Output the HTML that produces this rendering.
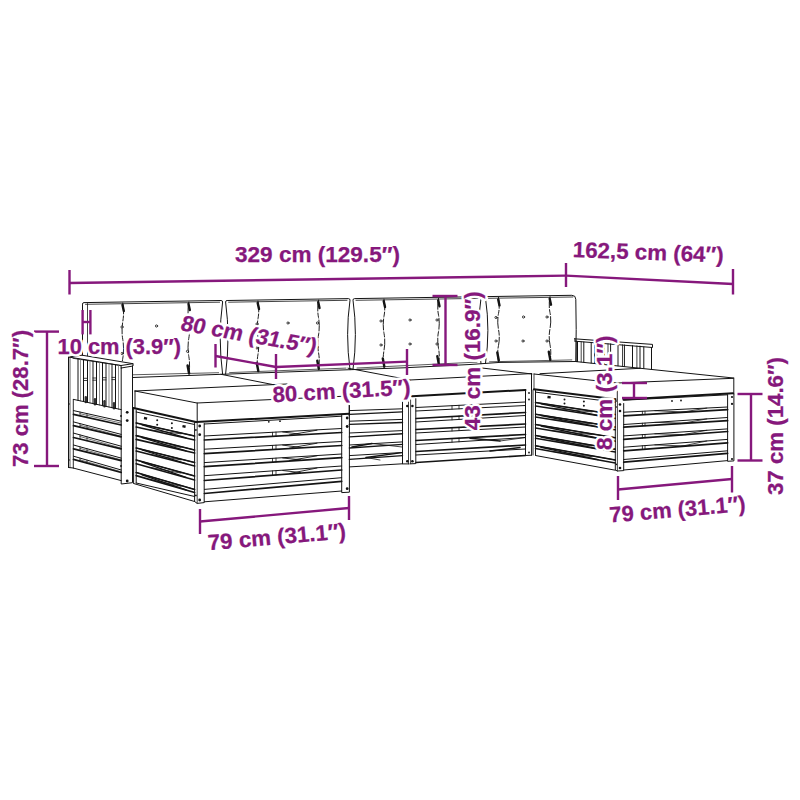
<!DOCTYPE html>
<html><head><meta charset="utf-8"><title>Sofa dimensions</title>
<style>
html,body{margin:0;padding:0;background:#fff;}
svg{display:block}
text{font-family:"Liberation Sans",sans-serif;font-weight:bold;fill:#86187c;stroke:#86187c;stroke-width:0.25px;stroke-linejoin:round}
text.h{fill:#fff;stroke:#fff;stroke-width:5px}
</style></head><body>
<svg width="800" height="800" viewBox="0 0 800 800">
<rect width="800" height="800" fill="#fff"/>
<g id="furniture" stroke-linecap="round">
<path d="M82.5,377.5 Q82.5,340.0 82.5,304.1 Q82.5,302.6 84.0,302.6 L221.1,300.5 Q222.6,300.5 222.6,302.0 Q217.79999999999998,337.4 222.6,374.3" fill="none" stroke="#141414" stroke-width="1.0" stroke-linejoin="round" stroke-linecap="round" />
<path d="M85.5,304.3 L219.6,302.2" fill="none" stroke="#141414" stroke-width="0.8" stroke-linejoin="round" stroke-linecap="round" />
<path d="M86.5,375.9 L218.6,372.7" fill="none" stroke="#141414" stroke-width="0.7" stroke-linejoin="round" stroke-linecap="round" />
<line x1="87.5" y1="303.6" x2="87.5" y2="363.5" stroke="#141414" stroke-width="0.8" />
<path d="M122.8,303.0 Q124.4,312.2 122.8,321.4 Q121.2,330.6 122.8,339.7 Q124.4,348.9 122.8,358.1 Q121.2,367.3 122.8,376.5 " fill="none" stroke="#141414" stroke-width="0.95" stroke-dasharray="11 2 5 2"/>
<path d="M122.5,305.0 L123.8,311.0" fill="none" stroke="#141414" stroke-width="2.4" stroke-linejoin="round" stroke-linecap="round" />
<path d="M121.6,367.5 L123.1,375.5" fill="none" stroke="#141414" stroke-width="2.4" stroke-linejoin="round" stroke-linecap="round" />
<path d="M188.8,302.0 Q187.2,311.1 188.8,320.1 Q190.4,329.2 188.8,338.3 Q187.2,347.3 188.8,356.4 Q190.4,365.4 188.8,374.5 " fill="none" stroke="#141414" stroke-width="0.95" stroke-dasharray="11 2 5 2"/>
<path d="M188.5,304.0 L189.8,310.0" fill="none" stroke="#141414" stroke-width="2.4" stroke-linejoin="round" stroke-linecap="round" />
<path d="M187.60000000000002,365.5 L189.10000000000002,373.5" fill="none" stroke="#141414" stroke-width="2.4" stroke-linejoin="round" stroke-linecap="round" />
<circle cx="122.0" cy="327.0" r="1.1" fill="#fff" stroke="#141414" stroke-width="0.8"/>
<circle cx="156.5" cy="326.0" r="1.1" fill="#fff" stroke="#141414" stroke-width="0.8"/>
<circle cx="122.0" cy="353.5" r="1.1" fill="#fff" stroke="#141414" stroke-width="0.8"/>
<circle cx="187.5" cy="351.3" r="1.1" fill="#fff" stroke="#141414" stroke-width="0.8"/>
<path d="M225.6,374.2 Q230.4,337.3 225.6,302.0 Q225.6,300.5 227.1,300.5 L348.5,298.6 Q350,298.6 350,300.1 Q345.2,334.2 350,369.7" fill="none" stroke="#141414" stroke-width="1.0" stroke-linejoin="round" stroke-linecap="round" />
<path d="M228.6,302.2 L347,300.3" fill="none" stroke="#141414" stroke-width="0.8" stroke-linejoin="round" stroke-linecap="round" />
<path d="M229.6,372.6 L346,368.1" fill="none" stroke="#141414" stroke-width="0.7" stroke-linejoin="round" stroke-linecap="round" />
<path d="M258,301.0 Q259.6,309.9 258,318.7 Q256.4,327.6 258,336.5 Q259.6,345.4 258,354.2 Q256.4,363.1 258,372.0 " fill="none" stroke="#141414" stroke-width="0.95" stroke-dasharray="11 2 5 2"/>
<path d="M257.7,303.0 L259,309.0" fill="none" stroke="#141414" stroke-width="2.4" stroke-linejoin="round" stroke-linecap="round" />
<path d="M256.8,363.0 L258.3,371.0" fill="none" stroke="#141414" stroke-width="2.4" stroke-linejoin="round" stroke-linecap="round" />
<path d="M318.5,300.1 Q316.9,308.8 318.5,317.5 Q320.1,326.2 318.5,335.0 Q316.9,343.7 318.5,352.4 Q320.1,361.1 318.5,369.8 " fill="none" stroke="#141414" stroke-width="0.95" stroke-dasharray="11 2 5 2"/>
<path d="M318.2,302.1 L319.5,308.1" fill="none" stroke="#141414" stroke-width="2.4" stroke-linejoin="round" stroke-linecap="round" />
<path d="M317.3,360.8 L318.8,368.8" fill="none" stroke="#141414" stroke-width="2.4" stroke-linejoin="round" stroke-linecap="round" />
<circle cx="257.0" cy="324.0" r="1.1" fill="#fff" stroke="#141414" stroke-width="0.8"/>
<circle cx="288.0" cy="323.0" r="1.1" fill="#fff" stroke="#141414" stroke-width="0.8"/>
<circle cx="317.5" cy="323.0" r="1.1" fill="#fff" stroke="#141414" stroke-width="0.8"/>
<circle cx="257.0" cy="348.0" r="1.1" fill="#fff" stroke="#141414" stroke-width="0.8"/>
<circle cx="288.0" cy="347.0" r="1.1" fill="#fff" stroke="#141414" stroke-width="0.8"/>
<circle cx="317.0" cy="347.0" r="1.1" fill="#fff" stroke="#141414" stroke-width="0.8"/>
<path d="M353,369.6 Q357.8,334.1 353,300.1 Q353,298.6 354.5,298.6 L479.5,296.7 Q481,296.7 481,298.2 Q476.2,330.2 481,363.7" fill="none" stroke="#141414" stroke-width="1.0" stroke-linejoin="round" stroke-linecap="round" />
<path d="M356,300.3 L478,298.4" fill="none" stroke="#141414" stroke-width="0.8" stroke-linejoin="round" stroke-linecap="round" />
<path d="M357,368.0 L477,362.1" fill="none" stroke="#141414" stroke-width="0.7" stroke-linejoin="round" stroke-linecap="round" />
<path d="M384,299.1 Q385.6,307.7 384,316.2 Q382.4,324.8 384,333.3 Q385.6,341.9 384,350.4 Q382.4,359.0 384,367.5 " fill="none" stroke="#141414" stroke-width="0.95" stroke-dasharray="11 2 5 2"/>
<path d="M383.7,301.1 L385,307.1" fill="none" stroke="#141414" stroke-width="2.4" stroke-linejoin="round" stroke-linecap="round" />
<path d="M382.8,358.5 L384.3,366.5" fill="none" stroke="#141414" stroke-width="2.4" stroke-linejoin="round" stroke-linecap="round" />
<path d="M438.5,298.3 Q436.9,306.7 438.5,315.0 Q440.1,323.4 438.5,331.7 Q436.9,340.0 438.5,348.4 Q440.1,356.7 438.5,365.1 " fill="none" stroke="#141414" stroke-width="0.95" stroke-dasharray="11 2 5 2"/>
<path d="M438.2,300.3 L439.5,306.3" fill="none" stroke="#141414" stroke-width="2.4" stroke-linejoin="round" stroke-linecap="round" />
<path d="M437.3,356.1 L438.8,364.1" fill="none" stroke="#141414" stroke-width="2.4" stroke-linejoin="round" stroke-linecap="round" />
<circle cx="381.0" cy="321.0" r="1.1" fill="#fff" stroke="#141414" stroke-width="0.8"/>
<circle cx="410.0" cy="320.0" r="1.1" fill="#fff" stroke="#141414" stroke-width="0.8"/>
<circle cx="437.0" cy="320.0" r="1.1" fill="#fff" stroke="#141414" stroke-width="0.8"/>
<circle cx="381.0" cy="345.0" r="1.1" fill="#fff" stroke="#141414" stroke-width="0.8"/>
<circle cx="410.0" cy="344.0" r="1.1" fill="#fff" stroke="#141414" stroke-width="0.8"/>
<circle cx="437.0" cy="344.0" r="1.1" fill="#fff" stroke="#141414" stroke-width="0.8"/>
<path d="M485.5,363.4 Q490.3,330.0 485.5,298.1 Q485.5,296.6 487.0,296.6 L571.8,295.3 Q575.8,295.3 575.8,299.3 Q576.5999999999999,328.4 575.8,361.5" fill="none" stroke="#141414" stroke-width="1.0" stroke-linejoin="round" stroke-linecap="round" />
<path d="M488.5,298.3 L572.8,297.0" fill="none" stroke="#141414" stroke-width="0.8" stroke-linejoin="round" stroke-linecap="round" />
<path d="M489.5,361.8 L571.8,359.9" fill="none" stroke="#141414" stroke-width="0.7" stroke-linejoin="round" stroke-linecap="round" />
<path d="M498.5,297.4 Q500.1,305.4 498.5,313.5 Q496.9,321.5 498.5,329.5 Q500.1,337.5 498.5,345.5 Q496.9,353.5 498.5,361.5 " fill="none" stroke="#141414" stroke-width="0.95" stroke-dasharray="11 2 5 2"/>
<path d="M498.2,299.4 L499.5,305.4" fill="none" stroke="#141414" stroke-width="2.4" stroke-linejoin="round" stroke-linecap="round" />
<path d="M497.3,352.5 L498.8,360.5" fill="none" stroke="#141414" stroke-width="2.4" stroke-linejoin="round" stroke-linecap="round" />
<path d="M550,296.7 Q548.4,304.7 550,312.7 Q551.6,320.7 550,328.7 Q548.4,336.8 550,344.8 Q551.6,352.8 550,360.8 " fill="none" stroke="#141414" stroke-width="0.95" stroke-dasharray="11 2 5 2"/>
<path d="M549.7,298.7 L551,304.7" fill="none" stroke="#141414" stroke-width="2.4" stroke-linejoin="round" stroke-linecap="round" />
<path d="M548.8,351.8 L550.3,359.8" fill="none" stroke="#141414" stroke-width="2.4" stroke-linejoin="round" stroke-linecap="round" />
<circle cx="496.0" cy="317.5" r="1.1" fill="#fff" stroke="#141414" stroke-width="0.8"/>
<circle cx="523.5" cy="317.0" r="1.1" fill="#fff" stroke="#141414" stroke-width="0.8"/>
<circle cx="547.0" cy="317.0" r="1.1" fill="#fff" stroke="#141414" stroke-width="0.8"/>
<circle cx="496.0" cy="341.0" r="1.1" fill="#fff" stroke="#141414" stroke-width="0.8"/>
<circle cx="523.0" cy="341.0" r="1.1" fill="#fff" stroke="#141414" stroke-width="0.8"/>
<circle cx="547.0" cy="341.0" r="1.1" fill="#fff" stroke="#141414" stroke-width="0.8"/>
<polyline points="133.0,377.5 219.0,374.4 330.0,370.4 404.0,367.8 470.0,364.5 500.0,362.4 577.0,361.5" fill="none" stroke="#141414" stroke-width="1.0" stroke-linejoin="round"/>
<polygon points="68.5,357.0 82.0,355.2 133.0,363.7 133.0,377.0 132.5,482.7 121.2,484.0 73.3,468.0 68.5,467.5" fill="#fff" stroke="none" stroke-width="0" stroke-linejoin="round"/>
<line x1="68.5" y1="357.0" x2="68.5" y2="467.5" stroke="#141414" stroke-width="1.0" />
<line x1="70.0" y1="357.5" x2="70.0" y2="467.5" stroke="#141414" stroke-width="0.7" />
<line x1="73.3" y1="399.4" x2="73.3" y2="468.0" stroke="#141414" stroke-width="0.9" />
<line x1="68.5" y1="467.5" x2="73.3" y2="468.0" stroke="#141414" stroke-width="1.0" />
<polyline points="68.5,357.0 121.0,365.5 133.0,363.7 133.0,366.0 121.2,368.0" fill="none" stroke="#141414" stroke-width="1.0" stroke-linejoin="round"/>
<line x1="68.5" y1="357.0" x2="82.0" y2="355.2" stroke="#141414" stroke-width="1.0" />
<line x1="82.0" y1="355.2" x2="133.0" y2="363.7" stroke="#141414" stroke-width="1.0" />
<line x1="73.0" y1="358.3" x2="121.0" y2="365.6" stroke="#141414" stroke-width="0.8" />
<line x1="77.5" y1="358.8" x2="121.0" y2="365.8" stroke="#141414" stroke-width="0.0" />
<line x1="121.0" y1="365.6" x2="121.2" y2="368.0" stroke="#141414" stroke-width="1.0" />
<polyline points="121.2,368.0 121.2,484.0 132.5,482.7 132.5,366.0" fill="none" stroke="#141414" stroke-width="1.0" stroke-linejoin="round"/>
<circle cx="127.2" cy="412.3" r="1.4" fill="#141414"/>
<circle cx="127.2" cy="420.6" r="1.4" fill="#141414"/>
<circle cx="127.2" cy="481.0" r="1.4" fill="#141414"/>
<circle cx="121.0" cy="466.0" r="0.9" fill="#141414"/>
<circle cx="121.0" cy="416.0" r="0.9" fill="#141414"/>
<circle cx="69.0" cy="404.0" r="0.8" fill="#141414"/>
<circle cx="69.0" cy="460.0" r="0.8" fill="#141414"/>
<line x1="78.0" y1="359.0" x2="78.0" y2="400.4" stroke="#141414" stroke-width="1.0" />
<line x1="80.5" y1="359.4" x2="80.5" y2="400.9" stroke="#666" stroke-width="0.7" />
<line x1="83.5" y1="359.8" x2="83.5" y2="401.6" stroke="#141414" stroke-width="1.0" />
<line x1="87.5" y1="360.5" x2="87.5" y2="402.5" stroke="#141414" stroke-width="1.0" />
<line x1="90.0" y1="360.9" x2="90.0" y2="403.0" stroke="#666" stroke-width="0.7" />
<line x1="93.0" y1="361.3" x2="93.0" y2="403.7" stroke="#141414" stroke-width="1.0" />
<line x1="96.5" y1="361.9" x2="96.5" y2="404.4" stroke="#141414" stroke-width="1.0" />
<line x1="99.5" y1="362.4" x2="99.5" y2="405.1" stroke="#666" stroke-width="0.7" />
<line x1="102.5" y1="362.8" x2="102.5" y2="405.8" stroke="#141414" stroke-width="1.0" />
<line x1="106.0" y1="363.4" x2="106.0" y2="406.5" stroke="#141414" stroke-width="1.0" />
<line x1="109.0" y1="363.8" x2="109.0" y2="407.2" stroke="#666" stroke-width="0.7" />
<line x1="112.0" y1="364.3" x2="112.0" y2="407.8" stroke="#141414" stroke-width="1.0" />
<line x1="115.5" y1="364.9" x2="115.5" y2="408.6" stroke="#141414" stroke-width="1.0" />
<line x1="118.5" y1="365.3" x2="118.5" y2="409.3" stroke="#666" stroke-width="0.7" />
<line x1="83.5" y1="378.3" x2="87.5" y2="378.3" stroke="#141414" stroke-width="0.8" />
<line x1="83.5" y1="380.5" x2="87.5" y2="380.5" stroke="#141414" stroke-width="0.8" />
<line x1="85.8" y1="397.1" x2="85.8" y2="402.1" stroke="#333" stroke-width="2.4" />
<line x1="93.0" y1="378.0" x2="96.5" y2="378.0" stroke="#141414" stroke-width="0.8" />
<line x1="93.0" y1="380.2" x2="96.5" y2="380.2" stroke="#141414" stroke-width="0.8" />
<line x1="95.0" y1="399.2" x2="95.0" y2="404.2" stroke="#333" stroke-width="2.4" />
<line x1="102.5" y1="377.7" x2="106.0" y2="377.7" stroke="#141414" stroke-width="0.8" />
<line x1="102.5" y1="379.9" x2="106.0" y2="379.9" stroke="#141414" stroke-width="0.8" />
<line x1="104.5" y1="401.3" x2="104.5" y2="406.3" stroke="#333" stroke-width="2.4" />
<line x1="112.0" y1="377.4" x2="115.5" y2="377.4" stroke="#141414" stroke-width="0.8" />
<line x1="112.0" y1="379.6" x2="115.5" y2="379.6" stroke="#141414" stroke-width="0.8" />
<line x1="114.0" y1="403.3" x2="114.0" y2="408.3" stroke="#333" stroke-width="2.4" />
<line x1="73.5" y1="399.4" x2="121.2" y2="409.6" stroke="#141414" stroke-width="1.0" />
<line x1="73.5" y1="410.6" x2="121.2" y2="421.2" stroke="#141414" stroke-width="1.0" />
<line x1="73.5" y1="414.4" x2="121.2" y2="425.0" stroke="#141414" stroke-width="1.7" />
<line x1="73.5" y1="421.9" x2="121.2" y2="434.4" stroke="#141414" stroke-width="1.0" />
<line x1="73.5" y1="425.6" x2="121.2" y2="436.9" stroke="#141414" stroke-width="1.7" />
<line x1="73.5" y1="433.1" x2="121.2" y2="446.2" stroke="#141414" stroke-width="1.0" />
<line x1="73.5" y1="437.5" x2="121.2" y2="448.8" stroke="#141414" stroke-width="1.7" />
<line x1="73.5" y1="445.0" x2="121.2" y2="458.1" stroke="#141414" stroke-width="1.0" />
<line x1="73.5" y1="448.8" x2="121.2" y2="460.6" stroke="#141414" stroke-width="1.7" />
<line x1="73.5" y1="456.2" x2="121.2" y2="470.0" stroke="#141414" stroke-width="1.0" />
<line x1="73.5" y1="459.4" x2="121.2" y2="472.5" stroke="#141414" stroke-width="1.7" />
<line x1="73.5" y1="468.1" x2="121.2" y2="480.6" stroke="#141414" stroke-width="1.0" />
<line x1="80.0" y1="413.7" x2="121.2" y2="423.1" stroke="#141414" stroke-width="0.6" />
<line x1="80.0" y1="412.1" x2="80.0" y2="415.9" stroke="#141414" stroke-width="0.7" />
<line x1="87.0" y1="413.7" x2="87.0" y2="417.5" stroke="#141414" stroke-width="0.7" />
<line x1="80.0" y1="425.2" x2="121.2" y2="436.2" stroke="#141414" stroke-width="0.6" />
<line x1="80.0" y1="423.6" x2="80.0" y2="427.2" stroke="#141414" stroke-width="0.7" />
<line x1="87.0" y1="425.5" x2="87.0" y2="428.9" stroke="#141414" stroke-width="0.7" />
<line x1="80.0" y1="436.5" x2="121.2" y2="448.1" stroke="#141414" stroke-width="0.6" />
<line x1="80.0" y1="434.9" x2="80.0" y2="439.1" stroke="#141414" stroke-width="0.7" />
<line x1="87.0" y1="436.9" x2="87.0" y2="440.8" stroke="#141414" stroke-width="0.7" />
<line x1="80.0" y1="448.4" x2="121.2" y2="459.9" stroke="#141414" stroke-width="0.6" />
<line x1="80.0" y1="446.8" x2="80.0" y2="450.4" stroke="#141414" stroke-width="0.7" />
<line x1="87.0" y1="448.8" x2="87.0" y2="452.2" stroke="#141414" stroke-width="0.7" />
<line x1="80.0" y1="459.8" x2="121.2" y2="471.8" stroke="#141414" stroke-width="0.6" />
<line x1="80.0" y1="458.2" x2="80.0" y2="461.2" stroke="#141414" stroke-width="0.7" />
<line x1="87.0" y1="460.2" x2="87.0" y2="463.2" stroke="#141414" stroke-width="0.7" />
<polyline points="135.0,391.0 197.0,403.0 349.0,396.0" fill="none" stroke="#141414" stroke-width="1.0" stroke-linejoin="round"/>
<line x1="135.0" y1="391.0" x2="287.0" y2="384.0" stroke="#141414" stroke-width="1.0" />
<line x1="135.0" y1="391.0" x2="135.0" y2="408.0" stroke="#141414" stroke-width="1.0" />
<line x1="197.2" y1="403.0" x2="197.2" y2="421.0" stroke="#141414" stroke-width="1.0" />
<line x1="349.2" y1="396.0" x2="349.2" y2="416.0" stroke="#141414" stroke-width="1.0" />
<line x1="133.5" y1="408.0" x2="196.0" y2="422.0" stroke="#141414" stroke-width="2.0" />
<line x1="196.0" y1="422.0" x2="349.0" y2="413.8" stroke="#141414" stroke-width="2.0" />
<line x1="133.6" y1="408.0" x2="133.6" y2="483.0" stroke="#141414" stroke-width="1.0" />
<line x1="136.2" y1="410.0" x2="136.2" y2="483.0" stroke="#141414" stroke-width="1.0" />
<line x1="136.2" y1="412.0" x2="194.6" y2="424.5" stroke="#141414" stroke-width="1.0" />
<line x1="136.2" y1="423.0" x2="194.6" y2="436.0" stroke="#141414" stroke-width="1.0" />
<line x1="136.2" y1="427.0" x2="194.6" y2="440.0" stroke="#141414" stroke-width="1.7" />
<line x1="136.2" y1="435.6" x2="194.6" y2="450.0" stroke="#141414" stroke-width="1.0" />
<line x1="136.2" y1="439.4" x2="194.6" y2="453.0" stroke="#141414" stroke-width="1.7" />
<line x1="136.2" y1="448.0" x2="194.6" y2="462.5" stroke="#141414" stroke-width="1.0" />
<line x1="136.2" y1="451.0" x2="194.6" y2="466.0" stroke="#141414" stroke-width="1.7" />
<line x1="136.2" y1="460.0" x2="194.6" y2="476.0" stroke="#141414" stroke-width="1.0" />
<line x1="136.2" y1="463.8" x2="194.6" y2="480.0" stroke="#141414" stroke-width="1.7" />
<line x1="136.2" y1="472.5" x2="194.6" y2="489.4" stroke="#141414" stroke-width="1.0" />
<line x1="136.2" y1="475.6" x2="194.6" y2="492.5" stroke="#141414" stroke-width="1.7" />
<line x1="136.2" y1="483.0" x2="194.6" y2="496.5" stroke="#141414" stroke-width="1.0" />
<line x1="133.6" y1="483.5" x2="194.6" y2="501.5" stroke="#141414" stroke-width="1.0" />
<line x1="136.2" y1="423.0" x2="194.6" y2="436.0" stroke="#141414" stroke-width="1.6" />
<line x1="142.0" y1="424.9" x2="186.0" y2="437.9" stroke="#141414" stroke-width="1.3" />
<line x1="150.0" y1="429.9" x2="181.0" y2="433.8" stroke="#141414" stroke-width="0.8" />
<line x1="136.2" y1="435.6" x2="194.6" y2="450.0" stroke="#141414" stroke-width="1.6" />
<line x1="142.0" y1="437.6" x2="186.0" y2="450.8" stroke="#141414" stroke-width="1.3" />
<line x1="150.0" y1="442.4" x2="181.0" y2="447.4" stroke="#141414" stroke-width="0.8" />
<line x1="136.2" y1="448.0" x2="194.6" y2="462.5" stroke="#141414" stroke-width="1.6" />
<line x1="142.0" y1="450.0" x2="186.0" y2="463.6" stroke="#141414" stroke-width="1.3" />
<line x1="150.0" y1="454.3" x2="181.0" y2="459.9" stroke="#141414" stroke-width="0.8" />
<line x1="136.2" y1="460.0" x2="194.6" y2="476.0" stroke="#141414" stroke-width="1.6" />
<line x1="142.0" y1="462.2" x2="186.0" y2="477.4" stroke="#141414" stroke-width="1.3" />
<line x1="150.0" y1="467.4" x2="181.0" y2="473.1" stroke="#141414" stroke-width="0.8" />
<line x1="136.2" y1="472.5" x2="194.6" y2="489.4" stroke="#141414" stroke-width="1.6" />
<line x1="142.0" y1="474.8" x2="186.0" y2="489.8" stroke="#141414" stroke-width="1.3" />
<line x1="150.0" y1="479.4" x2="181.0" y2="486.3" stroke="#141414" stroke-width="0.8" />
<rect x="144" y="417" width="3.2" height="2.4" fill="#141414" transform="rotate(12 145 418)"/>
<rect x="182.5" y="425.2" width="3.2" height="2.4" fill="#141414" transform="rotate(12 184 426)"/>
<circle cx="157.2" cy="420.2" r="1.0" fill="#141414"/>
<circle cx="157.2" cy="424.8" r="1.0" fill="#141414"/>
<circle cx="171.9" cy="423.3" r="1.0" fill="#141414"/>
<circle cx="171.9" cy="428.0" r="1.0" fill="#141414"/>
<polyline points="194.6,422.5 194.6,501.5 197.2,503.4 204.2,502.6 204.2,423.5" fill="none" stroke="#141414" stroke-width="1.0" stroke-linejoin="round"/>
<line x1="197.2" y1="423.0" x2="197.2" y2="503.4" stroke="#141414" stroke-width="0.8" />
<circle cx="199.7" cy="426.0" r="1.4" fill="#141414"/>
<circle cx="199.7" cy="434.7" r="1.4" fill="#141414"/>
<circle cx="199.7" cy="500.0" r="1.4" fill="#141414"/>
<circle cx="195.9" cy="430.0" r="0.9" fill="#141414"/>
<circle cx="195.9" cy="495.4" r="0.9" fill="#141414"/>
<line x1="204.4" y1="424.0" x2="341.7" y2="416.2" stroke="#141414" stroke-width="1.0" />
<line x1="204.4" y1="436.0" x2="341.7" y2="428.5" stroke="#141414" stroke-width="1.0" />
<line x1="204.4" y1="440.0" x2="341.7" y2="432.5" stroke="#141414" stroke-width="1.7" />
<line x1="204.4" y1="449.2" x2="341.7" y2="441.5" stroke="#141414" stroke-width="1.0" />
<line x1="204.4" y1="453.6" x2="341.7" y2="445.5" stroke="#141414" stroke-width="1.7" />
<line x1="204.4" y1="462.6" x2="341.7" y2="454.0" stroke="#141414" stroke-width="1.0" />
<line x1="204.4" y1="466.7" x2="341.7" y2="457.6" stroke="#141414" stroke-width="1.7" />
<line x1="204.4" y1="475.7" x2="341.7" y2="466.0" stroke="#141414" stroke-width="1.0" />
<line x1="204.4" y1="480.5" x2="341.7" y2="470.0" stroke="#141414" stroke-width="1.7" />
<line x1="204.4" y1="489.4" x2="341.7" y2="477.7" stroke="#141414" stroke-width="1.0" />
<line x1="204.4" y1="493.5" x2="341.7" y2="481.3" stroke="#141414" stroke-width="1.7" />
<line x1="204.4" y1="501.8" x2="341.7" y2="491.0" stroke="#141414" stroke-width="1.0" />
<line x1="272.5" y1="432.3" x2="272.5" y2="436.3" stroke="#141414" stroke-width="0.8" />
<line x1="276.0" y1="432.1" x2="276.0" y2="436.1" stroke="#141414" stroke-width="0.8" />
<line x1="272.5" y1="445.4" x2="272.5" y2="449.6" stroke="#141414" stroke-width="0.8" />
<line x1="276.0" y1="445.2" x2="276.0" y2="449.4" stroke="#141414" stroke-width="0.8" />
<line x1="272.5" y1="458.4" x2="272.5" y2="462.2" stroke="#141414" stroke-width="0.8" />
<line x1="276.0" y1="458.1" x2="276.0" y2="462.0" stroke="#141414" stroke-width="0.8" />
<line x1="272.5" y1="470.9" x2="272.5" y2="475.3" stroke="#141414" stroke-width="0.8" />
<line x1="276.0" y1="470.7" x2="276.0" y2="475.1" stroke="#141414" stroke-width="0.8" />
<circle cx="268.8" cy="421.8" r="0.9" fill="#141414"/>
<circle cx="280.0" cy="421.2" r="0.9" fill="#141414"/>
<line x1="282.7" y1="432.0" x2="300.5" y2="434.2" stroke="#141414" stroke-width="0.9" />
<line x1="289.5" y1="434.9" x2="317.0" y2="430.2" stroke="#141414" stroke-width="0.9" />
<line x1="282.7" y1="445.1" x2="300.5" y2="447.4" stroke="#141414" stroke-width="0.9" />
<line x1="289.5" y1="448.1" x2="317.0" y2="443.2" stroke="#141414" stroke-width="0.9" />
<line x1="282.7" y1="458.0" x2="300.5" y2="459.8" stroke="#141414" stroke-width="0.9" />
<line x1="289.5" y1="460.6" x2="317.0" y2="455.8" stroke="#141414" stroke-width="0.9" />
<line x1="282.7" y1="470.5" x2="300.5" y2="472.6" stroke="#141414" stroke-width="0.9" />
<line x1="289.5" y1="473.5" x2="317.0" y2="468.0" stroke="#141414" stroke-width="0.9" />
<polyline points="341.7,414.4 341.7,492.6 349.4,492.2 349.4,405.6" fill="none" stroke="#141414" stroke-width="1.0" stroke-linejoin="round"/>
<circle cx="347.2" cy="418.0" r="1.4" fill="#141414"/>
<circle cx="347.2" cy="426.5" r="1.4" fill="#141414"/>
<circle cx="347.2" cy="488.7" r="1.4" fill="#141414"/>
<line x1="349.4" y1="410.6" x2="402.5" y2="408.8" stroke="#141414" stroke-width="1.0" />
<line x1="349.4" y1="414.4" x2="402.5" y2="411.9" stroke="#141414" stroke-width="1.4" />
<line x1="349.4" y1="421.2" x2="402.5" y2="419.4" stroke="#141414" stroke-width="1.0" />
<line x1="349.4" y1="424.4" x2="402.5" y2="422.5" stroke="#141414" stroke-width="1.4" />
<line x1="349.4" y1="433.0" x2="402.5" y2="430.6" stroke="#141414" stroke-width="1.0" />
<line x1="349.4" y1="436.9" x2="402.5" y2="433.8" stroke="#141414" stroke-width="1.4" />
<line x1="349.4" y1="445.0" x2="402.5" y2="441.9" stroke="#141414" stroke-width="1.0" />
<line x1="349.4" y1="448.0" x2="402.5" y2="444.4" stroke="#141414" stroke-width="1.4" />
<line x1="349.4" y1="455.6" x2="402.5" y2="452.5" stroke="#141414" stroke-width="1.0" />
<line x1="349.4" y1="459.4" x2="402.5" y2="455.6" stroke="#141414" stroke-width="1.4" />
<line x1="349.4" y1="466.9" x2="402.5" y2="463.8" stroke="#141414" stroke-width="1.0" />
<line x1="352.0" y1="447.0" x2="372.0" y2="443.5" stroke="#141414" stroke-width="1.6" />
<line x1="372.0" y1="443.5" x2="402.0" y2="447.0" stroke="#141414" stroke-width="0.8" />
<line x1="366.0" y1="457.5" x2="402.0" y2="452.6" stroke="#141414" stroke-width="1.4" />
<line x1="366.0" y1="457.5" x2="380.0" y2="460.0" stroke="#141414" stroke-width="0.8" />
<polyline points="402.5,402.0 402.5,463.9 409.2,463.9" fill="none" stroke="#141414" stroke-width="1.0" stroke-linejoin="round"/>
<line x1="408.5" y1="402.0" x2="408.5" y2="463.8" stroke="#141414" stroke-width="0.8" />
<line x1="410.6" y1="400.0" x2="410.6" y2="463.8" stroke="#141414" stroke-width="0.8" />
<polyline points="410.6,463.8 415.8,463.6 415.8,398.7" fill="none" stroke="#141414" stroke-width="1.0" stroke-linejoin="round"/>
<line x1="402.5" y1="402.0" x2="406.0" y2="399.3" stroke="#141414" stroke-width="1.0" />
<circle cx="407.3" cy="406.0" r="1.3" fill="#141414"/>
<circle cx="412.4" cy="406.0" r="1.3" fill="#141414"/>
<circle cx="407.3" cy="461.2" r="1.3" fill="#141414"/>
<circle cx="412.4" cy="461.2" r="1.3" fill="#141414"/>
<line x1="412.0" y1="396.2" x2="525.5" y2="390.0" stroke="#141414" stroke-width="2.0" />
<line x1="416.0" y1="407.5" x2="525.5" y2="402.0" stroke="#141414" stroke-width="1.0" />
<line x1="416.0" y1="411.0" x2="525.5" y2="405.5" stroke="#141414" stroke-width="1.0" />
<line x1="416.0" y1="418.5" x2="525.5" y2="412.5" stroke="#141414" stroke-width="1.7" />
<line x1="416.0" y1="422.0" x2="525.5" y2="415.5" stroke="#141414" stroke-width="1.0" />
<line x1="416.0" y1="429.5" x2="525.5" y2="424.0" stroke="#141414" stroke-width="1.7" />
<line x1="416.0" y1="433.0" x2="525.5" y2="427.0" stroke="#141414" stroke-width="1.0" />
<line x1="416.0" y1="440.5" x2="525.5" y2="434.5" stroke="#141414" stroke-width="1.7" />
<line x1="416.0" y1="444.5" x2="525.5" y2="437.5" stroke="#141414" stroke-width="1.0" />
<line x1="416.0" y1="451.5" x2="525.5" y2="445.0" stroke="#141414" stroke-width="1.7" />
<line x1="416.0" y1="455.0" x2="525.5" y2="449.0" stroke="#141414" stroke-width="1.0" />
<line x1="416.0" y1="462.5" x2="525.5" y2="455.5" stroke="#141414" stroke-width="1.7" />
<line x1="452.0" y1="405.7" x2="452.0" y2="409.2" stroke="#141414" stroke-width="0.8" />
<line x1="459.0" y1="405.3" x2="459.0" y2="408.8" stroke="#141414" stroke-width="0.8" />
<line x1="452.0" y1="416.5" x2="452.0" y2="419.9" stroke="#141414" stroke-width="0.8" />
<line x1="459.0" y1="416.1" x2="459.0" y2="419.4" stroke="#141414" stroke-width="0.8" />
<line x1="452.0" y1="427.7" x2="452.0" y2="431.0" stroke="#141414" stroke-width="0.8" />
<line x1="459.0" y1="427.3" x2="459.0" y2="430.6" stroke="#141414" stroke-width="0.8" />
<line x1="452.0" y1="438.5" x2="452.0" y2="442.2" stroke="#141414" stroke-width="0.8" />
<line x1="459.0" y1="438.1" x2="459.0" y2="441.8" stroke="#141414" stroke-width="0.8" />
<line x1="470.0" y1="438.2" x2="500.0" y2="441.0" stroke="#141414" stroke-width="1.5" />
<line x1="500.0" y1="441.0" x2="525.0" y2="437.6" stroke="#141414" stroke-width="0.8" />
<line x1="490.0" y1="451.0" x2="520.0" y2="447.5" stroke="#141414" stroke-width="1.5" />
<polyline points="525.5,390.3 525.5,455.5 531.5,455.2" fill="none" stroke="#141414" stroke-width="1.0" stroke-linejoin="round"/>
<line x1="531.5" y1="390.0" x2="531.5" y2="455.2" stroke="#141414" stroke-width="0.9" />
<line x1="533.0" y1="390.0" x2="533.0" y2="455.0" stroke="#141414" stroke-width="0.9" />
<line x1="535.5" y1="390.5" x2="535.5" y2="455.0" stroke="#141414" stroke-width="1.0" />
<circle cx="529.0" cy="393.0" r="0.9" fill="#141414"/>
<circle cx="529.0" cy="399.5" r="0.9" fill="#141414"/>
<circle cx="529.0" cy="452.5" r="0.9" fill="#141414"/>
<line x1="221.0" y1="374.3" x2="275.0" y2="385.0" stroke="#141414" stroke-width="1.0" />
<line x1="348.0" y1="368.2" x2="410.0" y2="380.0" stroke="#141414" stroke-width="1.0" />
<line x1="410.0" y1="380.0" x2="531.5" y2="373.6" stroke="#141414" stroke-width="1.0" />
<line x1="482.0" y1="368.0" x2="532.0" y2="374.0" stroke="#141414" stroke-width="1.0" />
<line x1="531.5" y1="373.6" x2="531.5" y2="390.0" stroke="#141414" stroke-width="1.0" />
<line x1="534.0" y1="374.0" x2="534.0" y2="390.0" stroke="#141414" stroke-width="0.8" />
<line x1="287.0" y1="384.0" x2="349.0" y2="381.5" stroke="#141414" stroke-width="0.0" />
<line x1="534.0" y1="374.0" x2="617.3" y2="383.0" stroke="#141414" stroke-width="1.0" />
<line x1="576.0" y1="361.6" x2="733.4" y2="378.0" stroke="#141414" stroke-width="1.0" />
<line x1="617.3" y1="383.0" x2="733.4" y2="378.3" stroke="#141414" stroke-width="1.0" />
<line x1="733.8" y1="378.0" x2="733.8" y2="394.0" stroke="#141414" stroke-width="1.0" />
<line x1="540.0" y1="373.7" x2="640.0" y2="368.3" stroke="#141414" stroke-width="1.0" />
<line x1="534.0" y1="389.3" x2="615.5" y2="399.2" stroke="#141414" stroke-width="2.0" />
<line x1="623.5" y1="399.6" x2="733.0" y2="393.3" stroke="#141414" stroke-width="2.0" />
<line x1="617.3" y1="383.0" x2="617.3" y2="399.0" stroke="#141414" stroke-width="0.9" />
<line x1="576.3" y1="341.0" x2="576.3" y2="361.6" stroke="#141414" stroke-width="0.8" />
<polyline points="574.4,338.8 652.5,344.4 652.5,347.5 575.0,341.2" fill="none" stroke="#141414" stroke-width="1.0" stroke-linejoin="round"/>
<line x1="575.0" y1="341.2" x2="575.0" y2="338.8" stroke="#141414" stroke-width="1.0" />
<line x1="577.5" y1="341.6" x2="577.5" y2="361.6" stroke="#141414" stroke-width="1.0" />
<line x1="583.8" y1="342.0" x2="583.8" y2="362.2" stroke="#141414" stroke-width="1.0" />
<line x1="581.2" y1="341.8" x2="581.2" y2="361.9" stroke="#141414" stroke-width="0.8" />
<line x1="591.2" y1="342.6" x2="591.2" y2="363.0" stroke="#141414" stroke-width="1.0" />
<line x1="597.3" y1="343.0" x2="597.3" y2="363.6" stroke="#141414" stroke-width="1.0" />
<line x1="594.5" y1="342.8" x2="594.5" y2="363.3" stroke="#141414" stroke-width="0.8" />
<line x1="604.5" y1="343.5" x2="604.5" y2="364.4" stroke="#141414" stroke-width="1.0" />
<line x1="610.6" y1="344.0" x2="610.6" y2="365.0" stroke="#141414" stroke-width="1.0" />
<line x1="608.0" y1="343.8" x2="608.0" y2="364.7" stroke="#141414" stroke-width="0.8" />
<line x1="618.0" y1="344.5" x2="618.0" y2="365.8" stroke="#141414" stroke-width="1.0" />
<line x1="624.4" y1="345.0" x2="624.4" y2="366.4" stroke="#141414" stroke-width="1.0" />
<line x1="622.5" y1="344.8" x2="622.5" y2="366.2" stroke="#141414" stroke-width="0.8" />
<line x1="632.5" y1="345.6" x2="632.5" y2="367.3" stroke="#141414" stroke-width="1.0" />
<line x1="640.0" y1="346.1" x2="640.0" y2="368.0" stroke="#141414" stroke-width="1.0" />
<line x1="636.9" y1="345.9" x2="636.9" y2="367.7" stroke="#141414" stroke-width="0.8" />
<line x1="643.8" y1="347.0" x2="643.8" y2="368.4" stroke="#141414" stroke-width="1.0" />
<line x1="651.5" y1="347.4" x2="651.5" y2="369.2" stroke="#141414" stroke-width="1.0" />
<line x1="536.0" y1="392.2" x2="615.3" y2="402.2" stroke="#141414" stroke-width="1.0" />
<line x1="535.5" y1="402.5" x2="615.3" y2="414.6" stroke="#141414" stroke-width="1.0" />
<line x1="535.5" y1="406.0" x2="615.3" y2="418.3" stroke="#141414" stroke-width="1.5" />
<line x1="535.5" y1="414.2" x2="615.3" y2="426.9" stroke="#141414" stroke-width="1.0" />
<line x1="535.5" y1="417.0" x2="615.3" y2="429.8" stroke="#141414" stroke-width="1.5" />
<line x1="535.5" y1="424.5" x2="615.3" y2="437.7" stroke="#141414" stroke-width="1.0" />
<line x1="535.5" y1="428.0" x2="615.3" y2="441.3" stroke="#141414" stroke-width="1.5" />
<line x1="535.5" y1="435.5" x2="615.3" y2="449.2" stroke="#141414" stroke-width="1.0" />
<line x1="535.5" y1="438.3" x2="615.3" y2="452.1" stroke="#141414" stroke-width="1.5" />
<line x1="535.5" y1="445.8" x2="615.3" y2="460.0" stroke="#141414" stroke-width="1.0" />
<line x1="535.5" y1="448.6" x2="615.3" y2="463.0" stroke="#141414" stroke-width="1.5" />
<line x1="535.5" y1="455.5" x2="615.3" y2="470.2" stroke="#141414" stroke-width="1.0" />
<line x1="535.5" y1="402.5" x2="615.3" y2="414.6" stroke="#141414" stroke-width="1.5" />
<line x1="541.0" y1="403.9" x2="598.0" y2="415.4" stroke="#141414" stroke-width="1.3" />
<line x1="552.0" y1="408.3" x2="592.0" y2="411.9" stroke="#141414" stroke-width="0.8" />
<line x1="535.5" y1="414.2" x2="615.3" y2="426.9" stroke="#141414" stroke-width="1.5" />
<line x1="541.0" y1="415.7" x2="598.0" y2="426.8" stroke="#141414" stroke-width="1.3" />
<line x1="552.0" y1="419.4" x2="592.0" y2="424.0" stroke="#141414" stroke-width="0.8" />
<line x1="535.5" y1="424.5" x2="615.3" y2="437.7" stroke="#141414" stroke-width="1.5" />
<line x1="541.0" y1="426.0" x2="598.0" y2="438.2" stroke="#141414" stroke-width="1.3" />
<line x1="552.0" y1="430.6" x2="592.0" y2="434.6" stroke="#141414" stroke-width="0.8" />
<line x1="535.5" y1="435.5" x2="615.3" y2="449.2" stroke="#141414" stroke-width="1.5" />
<line x1="541.0" y1="437.0" x2="598.0" y2="448.9" stroke="#141414" stroke-width="1.3" />
<line x1="552.0" y1="441.0" x2="592.0" y2="446.0" stroke="#141414" stroke-width="0.8" />
<line x1="535.5" y1="445.8" x2="615.3" y2="460.0" stroke="#141414" stroke-width="1.5" />
<line x1="541.0" y1="447.4" x2="598.0" y2="459.6" stroke="#141414" stroke-width="1.3" />
<line x1="552.0" y1="451.4" x2="592.0" y2="456.7" stroke="#141414" stroke-width="0.8" />
<rect x="547.5" y="396" width="3.2" height="2.4" fill="#141414" transform="rotate(8 549 397)"/>
<circle cx="564.5" cy="399.5" r="1.0" fill="#141414"/>
<circle cx="564.5" cy="403.4" r="1.0" fill="#141414"/>
<circle cx="583.9" cy="401.6" r="1.0" fill="#141414"/>
<circle cx="583.9" cy="405.7" r="1.0" fill="#141414"/>
<circle cx="529.0" cy="393.0" r="0.0" fill="#141414"/>
<polyline points="615.3,399.0 615.3,470.0 617.4,471.0 623.7,470.6 623.7,403.5" fill="none" stroke="#141414" stroke-width="1.0" stroke-linejoin="round"/>
<line x1="617.4" y1="399.5" x2="617.4" y2="471.0" stroke="#141414" stroke-width="0.8" />
<circle cx="620.0" cy="404.5" r="1.3" fill="#141414"/>
<circle cx="620.0" cy="411.0" r="1.3" fill="#141414"/>
<circle cx="620.0" cy="468.0" r="1.3" fill="#141414"/>
<circle cx="616.3" cy="401.0" r="0.8" fill="#141414"/>
<circle cx="616.3" cy="407.0" r="0.8" fill="#141414"/>
<circle cx="616.3" cy="464.4" r="0.8" fill="#141414"/>
<line x1="623.7" y1="400.2" x2="727.6" y2="394.8" stroke="#141414" stroke-width="1.0" />
<line x1="623.7" y1="412.2" x2="727.6" y2="407.0" stroke="#141414" stroke-width="1.0" />
<line x1="623.7" y1="415.8" x2="727.6" y2="409.6" stroke="#141414" stroke-width="1.7" />
<line x1="623.7" y1="424.5" x2="727.6" y2="417.5" stroke="#141414" stroke-width="1.0" />
<line x1="623.7" y1="427.1" x2="727.6" y2="420.6" stroke="#141414" stroke-width="1.7" />
<line x1="623.7" y1="435.9" x2="727.6" y2="428.9" stroke="#141414" stroke-width="1.0" />
<line x1="623.7" y1="439.4" x2="727.6" y2="431.5" stroke="#141414" stroke-width="1.7" />
<line x1="623.7" y1="447.2" x2="727.6" y2="439.4" stroke="#141414" stroke-width="1.0" />
<line x1="623.7" y1="450.8" x2="727.6" y2="442.9" stroke="#141414" stroke-width="1.7" />
<line x1="623.7" y1="459.5" x2="727.6" y2="450.8" stroke="#141414" stroke-width="1.0" />
<line x1="623.7" y1="462.1" x2="727.6" y2="453.4" stroke="#141414" stroke-width="1.7" />
<line x1="623.7" y1="470.0" x2="727.6" y2="460.6" stroke="#141414" stroke-width="1.0" />
<line x1="642.4" y1="411.3" x2="642.4" y2="414.6" stroke="#141414" stroke-width="0.8" />
<line x1="645.0" y1="411.2" x2="645.0" y2="414.5" stroke="#141414" stroke-width="0.8" />
<line x1="654.9" y1="410.7" x2="686.0" y2="412.1" stroke="#141414" stroke-width="0.8" />
<line x1="680.8" y1="412.4" x2="706.8" y2="408.1" stroke="#141414" stroke-width="0.8" />
<line x1="642.4" y1="423.2" x2="642.4" y2="425.9" stroke="#141414" stroke-width="0.8" />
<line x1="645.0" y1="423.1" x2="645.0" y2="425.8" stroke="#141414" stroke-width="0.8" />
<line x1="654.9" y1="422.4" x2="686.0" y2="423.2" stroke="#141414" stroke-width="0.8" />
<line x1="680.8" y1="423.6" x2="706.8" y2="418.9" stroke="#141414" stroke-width="0.8" />
<line x1="642.4" y1="434.6" x2="642.4" y2="438.0" stroke="#141414" stroke-width="0.8" />
<line x1="645.0" y1="434.5" x2="645.0" y2="437.8" stroke="#141414" stroke-width="0.8" />
<line x1="654.9" y1="433.8" x2="686.0" y2="434.7" stroke="#141414" stroke-width="0.8" />
<line x1="680.8" y1="435.1" x2="706.8" y2="430.3" stroke="#141414" stroke-width="0.8" />
<line x1="642.4" y1="445.8" x2="642.4" y2="449.3" stroke="#141414" stroke-width="0.8" />
<line x1="645.0" y1="445.6" x2="645.0" y2="449.1" stroke="#141414" stroke-width="0.8" />
<line x1="654.9" y1="444.9" x2="686.0" y2="446.0" stroke="#141414" stroke-width="0.8" />
<line x1="680.8" y1="446.4" x2="706.8" y2="441.0" stroke="#141414" stroke-width="0.8" />
<circle cx="672.0" cy="401.0" r="0.9" fill="#141414"/>
<circle cx="681.0" cy="400.5" r="0.9" fill="#141414"/>
<polyline points="727.6,394.8 727.6,461.3 733.9,460.9 733.9,394.0" fill="none" stroke="#141414" stroke-width="1.0" stroke-linejoin="round"/>
<circle cx="732.0" cy="397.0" r="1.1" fill="#141414"/>
<circle cx="732.0" cy="403.9" r="1.1" fill="#141414"/>
<circle cx="732.0" cy="459.0" r="1.1" fill="#141414"/>
</g>
<g id="dims" stroke-linecap="butt">
<line x1="69.5" y1="270.0" x2="69.5" y2="294.5" stroke="#86187c" stroke-width="2.4" />
<line x1="69.5" y1="283.0" x2="566.0" y2="275.6" stroke="#86187c" stroke-width="2.4" />
<line x1="566.0" y1="263.0" x2="566.0" y2="287.0" stroke="#86187c" stroke-width="2.4" />
<line x1="566.0" y1="275.6" x2="733.0" y2="284.0" stroke="#86187c" stroke-width="2.4" />
<line x1="733.0" y1="269.0" x2="733.0" y2="294.5" stroke="#86187c" stroke-width="2.4" />
<line x1="34.0" y1="331.6" x2="59.0" y2="331.6" stroke="#86187c" stroke-width="2.4" />
<line x1="47.0" y1="331.6" x2="47.0" y2="466.0" stroke="#86187c" stroke-width="2.4" />
<line x1="34.0" y1="466.0" x2="59.0" y2="466.0" stroke="#86187c" stroke-width="2.4" />
<line x1="82.6" y1="310.0" x2="82.6" y2="334.4" stroke="#86187c" stroke-width="2.4" />
<line x1="90.4" y1="310.0" x2="90.4" y2="334.4" stroke="#86187c" stroke-width="2.4" />
<line x1="82.6" y1="322.0" x2="90.4" y2="322.0" stroke="#86187c" stroke-width="2.4" />
<line x1="215.5" y1="344.0" x2="215.5" y2="367.5" stroke="#86187c" stroke-width="2.4" />
<line x1="215.5" y1="356.0" x2="276.0" y2="367.0" stroke="#86187c" stroke-width="2.4" />
<line x1="276.0" y1="354.0" x2="276.0" y2="379.0" stroke="#86187c" stroke-width="2.4" />
<line x1="276.0" y1="367.0" x2="407.0" y2="361.6" stroke="#86187c" stroke-width="2.4" />
<line x1="407.0" y1="349.0" x2="407.0" y2="375.0" stroke="#86187c" stroke-width="2.4" />
<line x1="432.5" y1="296.0" x2="457.5" y2="296.0" stroke="#86187c" stroke-width="2.4" />
<line x1="445.5" y1="296.0" x2="445.5" y2="365.0" stroke="#86187c" stroke-width="2.4" />
<line x1="432.5" y1="365.0" x2="457.5" y2="365.0" stroke="#86187c" stroke-width="2.4" />
<line x1="622.0" y1="383.0" x2="647.0" y2="383.0" stroke="#86187c" stroke-width="2.4" />
<line x1="622.0" y1="398.0" x2="647.0" y2="398.0" stroke="#86187c" stroke-width="2.4" />
<line x1="634.0" y1="383.0" x2="634.0" y2="398.0" stroke="#86187c" stroke-width="2.4" />
<line x1="737.5" y1="394.0" x2="762.5" y2="394.0" stroke="#86187c" stroke-width="2.4" />
<line x1="751.0" y1="394.0" x2="751.0" y2="460.5" stroke="#86187c" stroke-width="2.4" />
<line x1="737.5" y1="460.5" x2="762.5" y2="460.5" stroke="#86187c" stroke-width="2.4" />
<line x1="200.0" y1="509.0" x2="200.0" y2="534.0" stroke="#86187c" stroke-width="2.4" />
<line x1="200.0" y1="521.5" x2="349.0" y2="508.0" stroke="#86187c" stroke-width="2.4" />
<line x1="349.0" y1="496.0" x2="349.0" y2="520.0" stroke="#86187c" stroke-width="2.4" />
<line x1="618.0" y1="476.0" x2="618.0" y2="500.0" stroke="#86187c" stroke-width="2.4" />
<line x1="618.0" y1="489.5" x2="732.0" y2="479.0" stroke="#86187c" stroke-width="2.4" />
<line x1="732.0" y1="466.0" x2="732.0" y2="492.5" stroke="#86187c" stroke-width="2.4" />
</g>
<g id="halo">
<text class="h" transform="translate(235.0 261.5)" font-size="22" textLength="165" lengthAdjust="spacingAndGlyphs">329 cm (129.5″)</text>
<text class="h" transform="translate(572.5 257.0) rotate(2.1)" font-size="22" textLength="151" lengthAdjust="spacingAndGlyphs">162,5 cm (64″)</text>
<text class="h" transform="translate(28.0 467.0) rotate(-90)" font-size="22" textLength="137" lengthAdjust="spacingAndGlyphs">73 cm (28.7″)</text>
<text class="h" transform="translate(57.5 354.0)" font-size="22" textLength="123.5" lengthAdjust="spacingAndGlyphs">10 cm (3.9″)</text>
<text class="h" transform="translate(179.5 330.0) rotate(10) skewX(-6)" font-size="22" textLength="137" lengthAdjust="spacingAndGlyphs">80 cm (31.5″)</text>
<text class="h" transform="translate(273.0 402.2) rotate(-3.2)" font-size="22" textLength="138" lengthAdjust="spacingAndGlyphs">80 cm (31.5″)</text>
<text class="h" transform="translate(480.0 430.3) rotate(-90)" font-size="22" textLength="139" lengthAdjust="spacingAndGlyphs">43 cm (16.9″)</text>
<text class="h" transform="translate(611.5 450.0) rotate(-90)" font-size="22" textLength="114.5" lengthAdjust="spacingAndGlyphs">8 cm (3.1″)</text>
<text class="h" transform="translate(783.0 495.0) rotate(-90)" font-size="22" textLength="138" lengthAdjust="spacingAndGlyphs">37 cm (14.6″)</text>
<text class="h" transform="translate(208.5 550.3) rotate(-5)" font-size="22" textLength="138.5" lengthAdjust="spacingAndGlyphs">79 cm (31.1″)</text>
<text class="h" transform="translate(610.0 522.5) rotate(-4.8)" font-size="22" textLength="136.5" lengthAdjust="spacingAndGlyphs">79 cm (31.1″)</text>
</g>
<g id="labels">
<text transform="translate(235.0 261.5)" font-size="22" textLength="165" lengthAdjust="spacingAndGlyphs">329 cm (129.5″)</text>
<text transform="translate(572.5 257.0) rotate(2.1)" font-size="22" textLength="151" lengthAdjust="spacingAndGlyphs">162,5 cm (64″)</text>
<text transform="translate(28.0 467.0) rotate(-90)" font-size="22" textLength="137" lengthAdjust="spacingAndGlyphs">73 cm (28.7″)</text>
<text transform="translate(57.5 354.0)" font-size="22" textLength="123.5" lengthAdjust="spacingAndGlyphs">10 cm (3.9″)</text>
<text transform="translate(179.5 330.0) rotate(10) skewX(-6)" font-size="22" textLength="137" lengthAdjust="spacingAndGlyphs">80 cm (31.5″)</text>
<text transform="translate(273.0 402.2) rotate(-3.2)" font-size="22" textLength="138" lengthAdjust="spacingAndGlyphs">80 cm (31.5″)</text>
<text transform="translate(480.0 430.3) rotate(-90)" font-size="22" textLength="139" lengthAdjust="spacingAndGlyphs">43 cm (16.9″)</text>
<text transform="translate(611.5 450.0) rotate(-90)" font-size="22" textLength="114.5" lengthAdjust="spacingAndGlyphs">8 cm (3.1″)</text>
<text transform="translate(783.0 495.0) rotate(-90)" font-size="22" textLength="138" lengthAdjust="spacingAndGlyphs">37 cm (14.6″)</text>
<text transform="translate(208.5 550.3) rotate(-5)" font-size="22" textLength="138.5" lengthAdjust="spacingAndGlyphs">79 cm (31.1″)</text>
<text transform="translate(610.0 522.5) rotate(-4.8)" font-size="22" textLength="136.5" lengthAdjust="spacingAndGlyphs">79 cm (31.1″)</text>
</g>
</svg>
</body></html>
